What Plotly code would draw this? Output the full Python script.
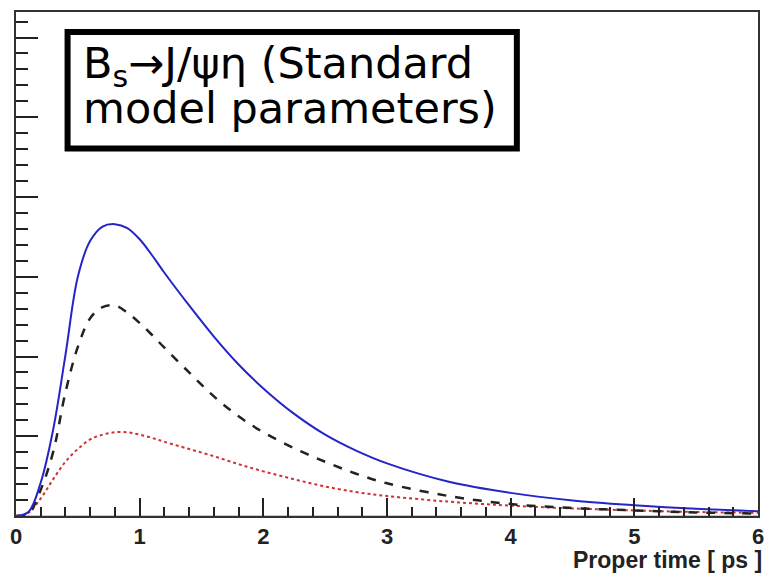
import plotly.graph_objects as go

# Proper time grid [ps]
t = [0, 0.1, 0.2, 0.3, 0.4, 0.5, 0.6, 0.7, 0.8, 0.9, 1.0, 1.1, 1.2, 1.4, 1.6, 1.8,
     2.0, 2.25, 2.5, 2.75, 3.0, 3.5, 4.0, 4.5, 5.0, 5.5, 6.0]

total = [0, 0.05, 0.42, 1.08, 2.02, 3.0, 3.45, 3.63, 3.66, 3.61, 3.47, 3.27, 3.05, 2.64,
         2.25, 1.90, 1.60, 1.28, 1.02, 0.82, 0.66, 0.43, 0.29, 0.195, 0.135, 0.09, 0.06]
dashed = [0, 0.03, 0.33, 0.80, 1.55, 2.12, 2.48, 2.62, 2.64, 2.55, 2.42, 2.27, 2.11, 1.80,
          1.50, 1.25, 1.05, 0.85, 0.68, 0.53, 0.41, 0.25, 0.15, 0.10, 0.07, 0.045, 0.03]
dotted = [0, 0.04, 0.22, 0.46, 0.68, 0.84, 0.96, 1.02, 1.05, 1.05, 1.02, 0.98, 0.93, 0.84,
          0.75, 0.65, 0.56, 0.46, 0.37, 0.30, 0.25, 0.18, 0.13, 0.095, 0.07, 0.05, 0.04]
zero = [0.0] * len(t)

x_ticks = [0, 1, 2, 3, 4, 5, 6]
x_labels = ["0", "1", "2", "3", "4", "5", "6"]

title_line1 = "B<sub>s</sub>→J/ψη (Standard"
title_line2 = "model parameters)"
x_title = "Proper time [ ps ]"

fig = go.Figure()
fig.add_trace(go.Scatter(x=t, y=zero, mode="lines",
                         line=dict(color="#f2a0a0", width=1.5), hoverinfo="skip"))
fig.add_trace(go.Scatter(x=t, y=dotted, mode="lines", line_shape="spline",
                         line=dict(color="#d03030", width=2, dash="dot")))
fig.add_trace(go.Scatter(x=t, y=dashed, mode="lines", line_shape="spline",
                         line=dict(color="#222222", width=2.5, dash="dash")))
fig.add_trace(go.Scatter(x=t, y=total, mode="lines", line_shape="spline",
                         line=dict(color="#2424c8", width=2)))

axis_line = dict(showline=True, linecolor="#333333", linewidth=2, mirror=True,
                 showgrid=False, zeroline=False, ticks="inside", tickcolor="#222222")

fig.update_xaxes(range=[0, 6], tickvals=x_ticks, ticktext=x_labels, ticklen=18, tickwidth=2,
                 tickfont=dict(family="Liberation Sans", size=22, color="#222222", weight="bold"),
                 minor=dict(dtick=0.2, ticks="inside", ticklen=9, tickwidth=2, tickcolor="#222222"),
                 **axis_line)
fig.update_yaxes(range=[0, 6.32], dtick=1, tick0=0, ticklen=22, tickwidth=2,
                 showticklabels=False,
                 minor=dict(dtick=0.2, ticks="inside", ticklen=12, tickwidth=2, tickcolor="#222222"),
                 **axis_line)

fig.add_shape(type="rect", xref="paper", yref="paper",
              x0=0.0695, x1=0.675, y0=0.729, y1=0.9605,
              line=dict(color="black", width=6), fillcolor="white", layer="above")
fig.add_annotation(xref="paper", yref="paper", x=0.088, y=0.893, xanchor="left", yanchor="middle",
                   text=title_line1, showarrow=False,
                   font=dict(family="DejaVu Sans", size=43, color="black"))
fig.add_annotation(xref="paper", yref="paper", x=0.088, y=0.810, xanchor="left", yanchor="middle",
                   text=title_line2, showarrow=False,
                   font=dict(family="DejaVu Sans", size=43, color="black"))
fig.add_annotation(xref="paper", yref="paper", x=1.008, y=-0.087, xanchor="right", yanchor="middle",
                   text=x_title, showarrow=False,
                   font=dict(family="Liberation Sans", size=23, color="#222222", weight="bold"))

fig.update_layout(width=774, height=574, margin=dict(l=14, r=12, t=10, b=58),
                  paper_bgcolor="white", plot_bgcolor="white", showlegend=False)

fig.write_html("out.html")
